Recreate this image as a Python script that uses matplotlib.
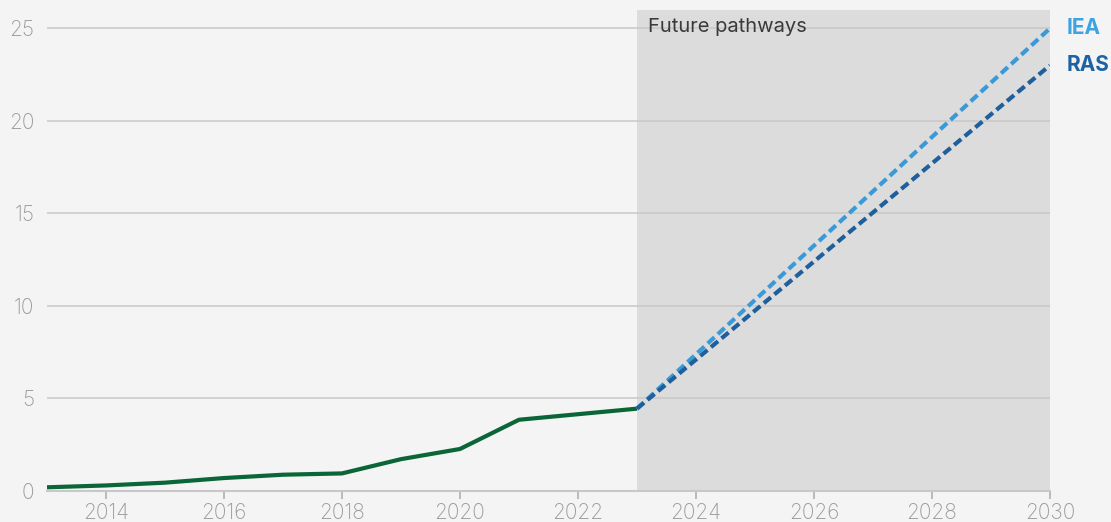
import matplotlib
matplotlib.use("Agg")
import matplotlib.pyplot as plt

# Historical values
hist_years = [2013, 2014, 2015, 2016, 2017, 2018, 2019, 2020, 2021, 2022, 2023]
hist_values = [0.2, 0.3, 0.45, 0.7, 0.88, 0.95, 1.72, 2.27, 3.85, 4.15, 4.45]

# Future pathways (start from the last historical point)
path_years = [2023, 2030]
iea_values = [4.45, 25]
ras_values = [4.45, 23]

xticks = [2014, 2016, 2018, 2020, 2022, 2024, 2026, 2028, 2030]
yticks = [0, 5, 10, 15, 20, 25]

plt.rcParams['font.family'] = ['Inter', 'DejaVu Sans']

bg = '#f4f4f4'
fig = plt.figure(figsize=(11.11, 5.22), dpi=100, facecolor=bg)
ax = fig.add_axes([0.0423, 0.0594, 0.9027, 0.9216], facecolor=bg)

ax.set_xlim(2013, 2030)
ax.set_ylim(0, 26)

ax.axvspan(2023, 2030, color='#dcdcdc', zorder=0, lw=0)
for y in yticks[1:]:
    ax.axhline(y, color='#c8c8c8', lw=1.1, zorder=1)

ax.plot(hist_years, hist_values, color='#0a6636', lw=3, zorder=3,
        solid_capstyle='butt')
ax.plot(path_years, iea_values, color='#3a9ad8', lw=3, ls=(0, (2.2, 1.1)),
        zorder=3)
ax.plot(path_years, ras_values, color='#1f5f9b', lw=3, ls=(0, (2.2, 1.1)),
        zorder=3)

ax.text(1.017, iea_values[-1], 'IEA', transform=ax.get_yaxis_transform(),
        color='#3ea3e2', fontsize=15, fontweight='bold', va='center', ha='left')
ax.text(1.017, ras_values[-1], 'RAS', transform=ax.get_yaxis_transform(),
        color='#1d62a2', fontsize=15, fontweight='bold', va='center', ha='left')

ax.text(2023.18, 25.05, 'Future pathways', color='#3a3a3a', fontsize=14.5,
        va='center', ha='left', zorder=4)

ax.set_xticks(xticks)
ax.set_yticks(yticks)
ax.tick_params(axis='x', colors='#b0b0b0', labelcolor='#9a9a9a', labelsize=15,
               length=6, width=1.2, direction='out', pad=3)
ax.tick_params(axis='y', labelcolor='#9a9a9a', labelsize=15, length=0, pad=9)
for lbl in ax.get_xticklabels() + ax.get_yticklabels():
    lbl.set_fontweight('light')

for s in ['top', 'right', 'left']:
    ax.spines[s].set_visible(False)
ax.spines['bottom'].set_color('#c8c8c8')
ax.spines['bottom'].set_linewidth(1.5)

fig.savefig('out.png', dpi=100, facecolor=bg)
